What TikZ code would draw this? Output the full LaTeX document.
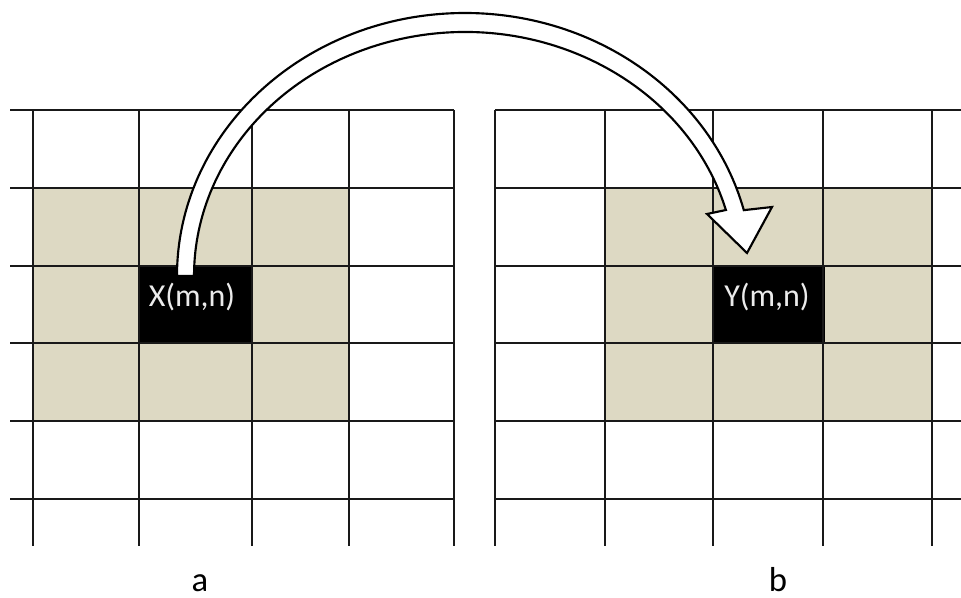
\documentclass[tikz,border=0pt]{standalone}
\usepackage{fontspec}
\setmainfont{Carlito}
\definecolor{shadecol}{RGB}{221,217,195}
\definecolor{gridcol}{RGB}{25,25,25}
\tikzset{
  gridline/.style={line width=1.2pt, draw=gridcol},
  blackcell/.style={fill=black, draw=none, inner sep=0pt, minimum width=84.75pt, minimum height=57.75pt},
  celltext/.style={text=white!92!black, font=\fontsize{24}{27}\selectfont, inner sep=0pt, anchor=base},
  lbl/.style={text=black, font=\fontsize{26}{30}\selectfont, inner sep=0pt, anchor=base},
  hollowarrow/.style={fill=white, draw=black, line width=1.6pt, line join=miter}
}
\begin{document}
\begin{tikzpicture}[x=0.75pt,y=-0.75pt]
\useasboundingbox (0,0) rectangle (961,598);
% shaded neighbourhoods
\fill[shadecol] (33,188) rectangle (349,421);
\fill[shadecol] (605,188) rectangle (932,421);
% centre cells
\node[blackcell] (X) at (195.5,304.5) {};
\node[blackcell] (Y) at (768,304.5) {};
% left grid
\foreach \y in {110,188,266,343,421,499} \draw[gridline] (10,\y) -- (454,\y);
\foreach \x in {33,139,252,349,454} \draw[gridline] (\x,110) -- (\x,546);
% right grid
\foreach \y in {110,188,266,343,421,499} \draw[gridline] (495,\y) -- (961,\y);
\foreach \x in {495,605,713,823,932} \draw[gridline] (\x,110) -- (\x,546);
% texts in cells
\node[celltext] (Xt) at (192,307) {X(m,n)};
\node[celltext] (Yt) at (767,307) {Y(m,n)};
% hollow curved arrow from X to Y
\draw[hollowarrow] (177,276) arc[start angle=180,end angle=345.5,x radius=288,y radius=263]
  -- (772,207) -- (747,253) -- (707,214) -- (725.9,210)
  arc[start angle=344.3,end angle=180,x radius=271,y radius=244] -- cycle;
% labels
\node[lbl] (a) at (200,591) {a};
\node[lbl] (b) at (778,591) {b};
\end{tikzpicture}
\end{document}
